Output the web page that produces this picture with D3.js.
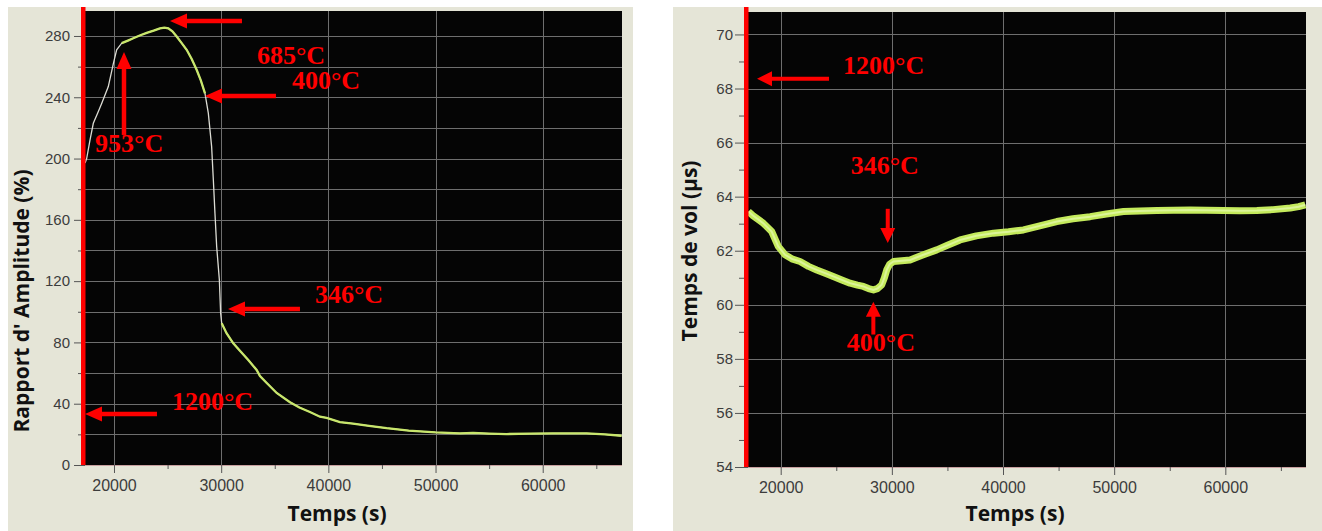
<!DOCTYPE html>
<html><head><meta charset="utf-8">
<script src="https://cdn.jsdelivr.net/npm/d3@7"></script>
<style>body{margin:0;background:#fff}svg{display:block}</style>
</head><body>
<svg id="c" width="1322" height="531"></svg>
<script>
// ---------- DATA ----------
const ampTime = [17300,17450,17760,18070,18500,18850,19470,19940,20250,20720,21300,21800,22400,23050,23700,24290,24700,25070,25450,25850,26300,26780,27250,27720,28100,28490,28800,29110,29270,29420,29580,29830,29950,30050,30500,31130,31750,32530,33310,33620,34250,35180,36420,37300,38280,39220,39840,41080,42300,43800,45440,47500,50000,52280,53500,55000,56630,58800,60960,62500,64100,65800,67360];
const ampValue = [197,200,212,223,230,236,247,262,271,275.3,277,278.5,280.3,282,283.5,285,285.5,285,283,279.6,275.5,271,265,257.8,251,242.6,229.6,207.8,186,164.3,142.6,120.8,99,92.5,86,79.4,74.5,68.5,62,58,53.5,47,41,37.5,34.6,31.5,30.7,28,27,25.5,24,22.5,21.3,20.7,21,20.5,20.2,20.5,20.7,20.6,20.7,20,19.1];

const tofTime = [17100,17500,18000,18430,19190,19780,20390,21000,21740,22500,23240,24000,24730,25500,26240,26900,27440,27900,28340,28700,29090,29330,29540,29800,30140,30900,31640,32200,32840,34040,35000,36140,37600,39140,40500,41840,43300,44840,46300,47840,49300,50840,52300,53840,55300,56840,58300,59840,61300,62840,64300,65840,66600,67200];
const tofValue = [63.45,63.3,63.15,63.02,62.71,62.16,61.85,61.7,61.6,61.42,61.29,61.17,61.05,60.92,60.8,60.73,60.68,60.6,60.55,60.6,60.74,61.0,61.29,61.5,61.6,61.63,61.66,61.75,61.85,62.03,62.2,62.4,62.55,62.65,62.7,62.77,62.92,63.08,63.18,63.26,63.36,63.45,63.47,63.49,63.5,63.51,63.5,63.49,63.48,63.49,63.52,63.58,63.63,63.7];

const xTicks = [20000,30000,40000,50000,60000];
const xMinorTicks = [25000,35000,45000,55000,65000];
const ampYTicks = [0,40,80,120,160,200,240,280];
const ampYMinor = [20,60,100,140,180,220,260];
const ampGrid = [20,40,60,80,100,120,140,160,180,200,220,240,260,280];
const tofYTicks = [54,56,58,60,62,64,66,68,70];
const tofYMinor = [55,57,59,61,63,65,67,69];

const ampLabels = ["685°C","400°C","953°C","346°C","1200°C"];
const ampLabelT = [33340,36604,18228,38750,25410];
const ampLabelV = [261.7,245.4,204.3,105.7,35.9];
const ampArrowFrom = [[31940,289.8],[35112,240.9],[20933,215.4],[37351,101.8],[24011,33.3]];
const ampArrowTo   = [[25224,289.8],[28489,240.9],[20933,269.6],[30634,101.8],[17295,33.3]];

const tofLabels = ["1200°C","346°C","400°C"];
const tofLabelT = [25607,26292,25941];
const tofLabelV = [68.54,64.84,58.30];
const tofArrowFrom = [[24348,68.36],[29631,63.55],[28335,58.9]];
const tofArrowTo   = [[17867,68.36],[29631,62.29],[28335,60.11]];

// ---------- DRAW ----------
const svg = d3.select("#c");
const BEIGE = "#e5e5d7", GRID = "#6e6e6e";

function arrow(g, x0, y0, x1, y1, lw, hl, hw) {
  const dx = x1 - x0, dy = y1 - y0, L = Math.hypot(dx, dy);
  const ux = dx / L, uy = dy / L;
  const bx = x1 - ux * hl, by = y1 - uy * hl;
  g.append("line").attr("x1", x0).attr("y1", y0).attr("x2", bx + ux).attr("y2", by + uy)
    .attr("stroke", "#ff0000").attr("stroke-width", lw);
  g.append("path").attr("d", `M${x1},${y1}L${bx - uy * hw / 2},${by + ux * hw / 2}L${bx + uy * hw / 2},${by - ux * hw / 2}Z`)
    .attr("fill", "#ff0000");
}

function panel(cfg) {
  const g = svg.append("g");
  g.append("rect").attr("x", cfg.frame[0]).attr("y", cfg.frame[1]).attr("width", cfg.frame[2]).attr("height", cfg.frame[3]).attr("fill", BEIGE);
  const x = d3.scaleLinear().domain(cfg.xDomain).range([cfg.plot[0], cfg.plot[1]]);
  const y = d3.scaleLinear().domain(cfg.yDomain).range([cfg.plot[3], cfg.plot[2]]);
  g.append("rect").attr("x", cfg.plot[0]).attr("y", cfg.plot[2]).attr("width", cfg.plot[1] - cfg.plot[0]).attr("height", cfg.plot[3] - cfg.plot[2]).attr("fill", "#050505");
  // grid
  const gg = g.append("g").attr("stroke", GRID).attr("stroke-width", 1).attr("shape-rendering", "crispEdges");
  xTicks.forEach(t => gg.append("line").attr("x1", Math.round(x(t)) + 0.5).attr("x2", Math.round(x(t)) + 0.5).attr("y1", cfg.plot[2]).attr("y2", cfg.plot[3]));
  cfg.grid.forEach(v => gg.append("line").attr("y1", Math.round(y(v)) + 0.5).attr("y2", Math.round(y(v)) + 0.5).attr("x1", cfg.plot[0]).attr("x2", cfg.plot[1]));
  // bottom edge
  g.append("line").attr("x1", cfg.plot[0]).attr("x2", cfg.plot[1]).attr("y1", cfg.plot[3] + 0.5).attr("y2", cfg.plot[3] + 0.5).attr("stroke", "#c8a0a0").attr("stroke-width", 1);
  // axes
  const xa = g.append("g").attr("transform", `translate(0,${cfg.plot[3]})`)
    .call(d3.axisBottom(x).tickValues(xTicks).tickFormat(d3.format("d")).tickSize(8).tickSizeOuter(0).tickPadding(7));
  const xm = g.append("g").attr("transform", `translate(0,${cfg.plot[3]})`)
    .call(d3.axisBottom(x).tickValues(xMinorTicks).tickFormat("").tickSize(4).tickSizeOuter(0));
  const ya = g.append("g").attr("transform", `translate(${cfg.plot[0]},0)`)
    .call(d3.axisLeft(y).tickValues(cfg.yTicks).tickFormat(d3.format("d")).tickSize(cfg.yTickSize).tickSizeOuter(0).tickPadding(cfg.yPad));
  const ym = g.append("g").attr("transform", `translate(${cfg.plot[0]},0)`)
    .call(d3.axisLeft(y).tickValues(cfg.yMinor).tickFormat("").tickSize(cfg.yTickSize - 4).tickSizeOuter(0));
  [xa, xm, ya, ym].forEach(a => {
    a.select(".domain").remove();
    a.selectAll("line").attr("stroke", "#555");
    a.selectAll("text").attr("fill", "#3c3c3c").attr("font-family", "'Liberation Sans', Arial, sans-serif");
  });
  xa.selectAll("text").attr("font-size", 16);
  ya.selectAll("text").attr("font-size", 15);
  // data line
  cfg.drawLine(g, x, y);
  // red bar
  g.append("rect").attr("x", cfg.plot[0] - 4).attr("y", 7).attr("width", 4.5).attr("height", cfg.plot[3] - 7).attr("fill", "#ff0000");
  // titles
  g.append("text").attr("x", cfg.xTitle).attr("y", 521).attr("text-anchor", "middle")
    .attr("font-family", "'Open Sans', sans-serif").attr("font-weight", "bold").attr("font-size", 21).attr("fill", "#111").text("Temps (s)");
  g.append("text").attr("transform", `translate(${cfg.yTitle[0]},${cfg.yTitle[1]}) rotate(-90)`).attr("text-anchor", "middle")
    .attr("font-family", "'Open Sans', sans-serif").attr("font-weight", "bold").attr("font-size", 21).attr("fill", "#111").text(cfg.yLabel);
  // annotations
  const ag = g.append("g");
  cfg.arrowFrom.forEach((f, i) => {
    const t = cfg.arrowTo[i];
    arrow(ag, x(f[0]), y(f[1]), x(t[0]), y(t[1]), cfg.lw, cfg.hl, cfg.hw);
  });
  cfg.labels.forEach((s, i) => {
    ag.append("text").attr("x", x(cfg.labelT[i])).attr("y", y(cfg.labelV[i]))
      .attr("font-family", "'Liberation Serif', 'Times New Roman', serif").attr("font-weight", "bold")
      .attr("font-size", 26).attr("fill", "#ff0000").text(s);
  });
}

panel({
  frame: [8, 7, 625, 524], plot: [85, 622, 11, 465],
  xDomain: [17295, 67397], yDomain: [0, 296.3],
  grid: ampGrid, yTicks: ampYTicks, yMinor: ampYMinor, yTickSize: 11, yPad: 4,
  xTitle: 337, yTitle: [29, 301], yLabel: "Rapport d' Amplitude (%)",
  labels: ampLabels, labelT: ampLabelT, labelV: ampLabelV, arrowFrom: ampArrowFrom, arrowTo: ampArrowTo,
  lw: 4.5, hl: 17, hw: 15,
  drawLine: (g, x, y) => {
    const pts = ampTime.map((t, i) => [t, ampValue[i]]);
    const line = d3.line().x(d => x(d[0])).y(d => y(d[1]));
    g.append("path").attr("d", line(pts)).attr("fill", "none").attr("stroke", "#dcdcd4").attr("stroke-width", 1.3);
    const seg1 = pts.filter(d => d[0] >= 20720 && d[0] <= 28490);
    const seg2 = pts.filter(d => d[0] >= 30050);
    [seg1, seg2].forEach(s => g.append("path").attr("d", line(s)).attr("fill", "none").attr("stroke", "#c8e66c").attr("stroke-width", 2.3));
  }
});

panel({
  frame: [673, 7, 649, 524], plot: [748, 1306, 12, 467],
  xDomain: [17058, 67259], yDomain: [54, 70.83],
  grid: tofYTicks, yTicks: tofYTicks, yMinor: tofYMinor, yTickSize: 13, yPad: 2,
  xTitle: 1015, yTitle: [697, 251], yLabel: "Temps de vol (µs)",
  labels: tofLabels, labelT: tofLabelT, labelV: tofLabelV, arrowFrom: tofArrowFrom, arrowTo: tofArrowTo,
  lw: 4, hl: 15, hw: 15,
  drawLine: (g, x, y) => {
    const pts = tofTime.map((t, i) => [t, tofValue[i]]);
    const line = d3.line().x(d => x(d[0])).y(d => y(d[1]));
    g.append("path").attr("d", line(pts)).attr("fill", "none").attr("stroke", "#c4ea5c").attr("stroke-width", 7).attr("stroke-linejoin", "round");
    g.append("path").attr("d", line(pts)).attr("fill", "none").attr("stroke", "#dcf59a").attr("stroke-width", 2);
  }
});
</script>
</body></html>
